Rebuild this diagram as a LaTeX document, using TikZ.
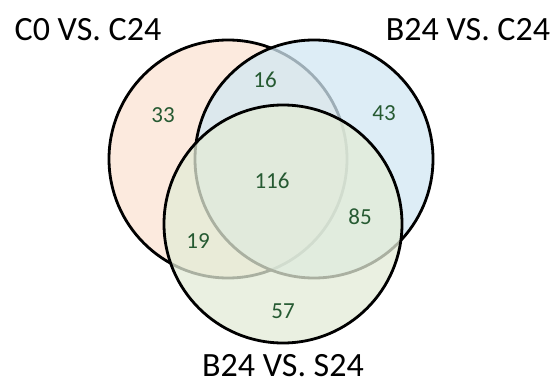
\documentclass[tikz,border=0pt]{standalone}
\usepackage{fontspec}
\setmainfont{Carlito}
\begin{document}
\begin{tikzpicture}[x=1pt,y=-1pt]
\definecolor{cA}{RGB}{252,234,222}
\definecolor{cB}{RGB}{210,232,243}
\definecolor{cC}{RGB}{227,236,215}
\definecolor{numgreen}{RGB}{38,90,50}
\tikzset{
  setcircle/.style={circle, draw=black, line width=2.8pt, minimum size=238pt, inner sep=0pt},
  num/.style={text=numgreen, font=\fontsize{23}{26}\selectfont, inner sep=0pt},
  settitle/.style={text=black, font=\fontsize{34}{38}\selectfont, inner sep=0pt}
}
\useasboundingbox (0,0) rectangle (556,385);
\fill[white] (0,0) rectangle (556,385);
\node[setcircle, fill=cA] (A) at (228,159) {};
\node[setcircle, fill=cB, fill opacity=0.75] (B) at (314,159) {};
\node[setcircle, fill=cC, fill opacity=0.75] (C) at (283,224) {};
\node[num] (n33) at (163,115) {33};
\node[num] (n16) at (265,80) {16};
\node[num] (n43) at (384,113) {43};
\node[num] (n116) at (272,181) {116};
\node[num] (n85) at (360,217) {85};
\node[num] (n19) at (198,241) {19};
\node[num] (n57) at (283,311) {57};
\node[settitle] (tA) at (88,30) {C0 VS. C24};
\node[settitle] (tB) at (468,30) {B24 VS. C24};
\node[settitle] (tC) at (283,366) {B24 VS. S24};
\end{tikzpicture}
\end{document}
